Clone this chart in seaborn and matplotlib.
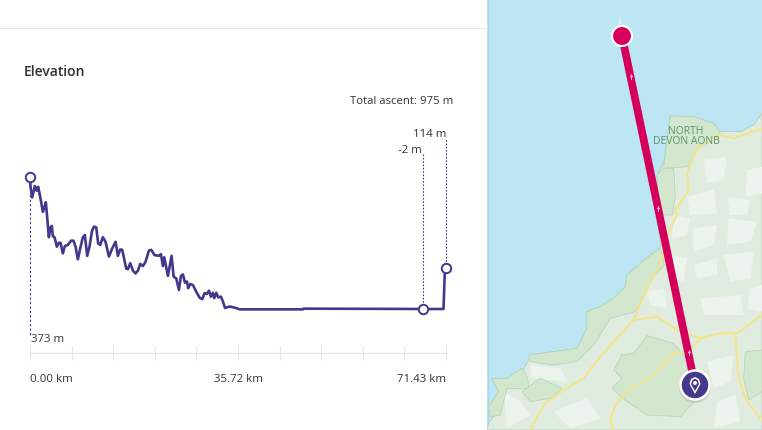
import numpy as np
import pandas as pd
import seaborn as sns
import matplotlib.pyplot as plt
from matplotlib.patches import Polygon, Circle

sns.set_theme(style="white")
plt.rcParams['font.family'] = ['Open Sans', 'DejaVu Sans']

W, H = 762, 430
PURPLE = '#45388c'
TEXT = '#333333'

# elevation profile
km = [0, 0.09, 0.37, 0.72, 0.83, 1.17, 1.40, 1.75, 2.21, 2.43, 2.72, 2.89, 3.24, 3.52, 3.75, 3.92,
      4.21, 4.61, 4.95, 5.24, 5.64, 5.99, 6.50, 7.07, 7.47, 7.82, 8.22, 8.62, 9.08, 9.42, 9.82,
      10.22, 10.62, 10.97, 11.37, 11.71, 12.06, 12.51, 12.97, 13.55, 14.12, 14.69, 15.09, 15.49,
      15.84, 16.52, 16.81, 17.21, 17.67, 18.13, 18.53, 18.93, 19.39, 19.84, 20.42, 20.82, 21.39,
      22.14, 22.48, 22.82, 23.05, 23.68, 23.97, 24.31, 24.66, 25.11, 25.57, 25.92, 26.26, 26.60,
      26.95, 27.17, 27.52, 27.98, 28.55, 29.12, 29.58, 29.98, 30.38, 30.73, 31.07, 31.41, 31.64,
      31.99, 32.33, 32.79, 33.13, 33.48, 34.28, 35.14, 36.0, 46.9, 47.0, 67.4, 71.0, 71.25]
elev = [373, 345, 315, 338, 347, 334, 345, 317, 274, 284, 301, 270, 202, 230, 234, 205,
        202, 175, 186, 186, 156, 177, 180, 192, 192, 175, 139, 170, 202, 208, 149,
        175, 218, 232, 230, 184, 180, 202, 189, 147, 170, 189, 149, 167,
        166, 113, 111, 128, 107, 99, 107, 126, 120, 132, 164, 166, 151,
        149, 154, 120, 145, 92, 118, 149, 90, 85, 52, 92, 96, 73,
        76, 57, 69, 66, 47, 30, 26, 43, 41, 50, 33, 44, 29,
        44, 31, 33, 19, 1, 5, 2, -3, -3, -1, -2, -2, 114]
marker_km = [0, 67.4, 71.43]
marker_elev = [373, -2, 114]
marker_labels = ['373 m', '-2 m', '114 m']
tick_km = [0, 7.143, 14.286, 21.429, 28.572, 35.715, 42.858, 50.001, 57.144, 64.287, 71.43]
tick_labels = ['0.00 km', '', '', '', '', '35.72 km', '', '', '', '', '71.43 km']

# map shapes as they sit in the two zoomed crops of the map
sea_coast = [(825, 340), (800, 375), (760, 395), (700, 395), (680, 370), (620, 350), (550, 348),
             (540, 420), (530, 490), (510, 525), (515, 600), (510, 645)]
sea_coast2 = [(520, 100), (490, 120), (420, 180), (415, 215), (385, 245), (340, 275), (300, 290),
              (300, 340), (270, 400), (200, 410), (130, 420), (125, 435), (105, 470), (60, 490),
              (15, 490), (35, 530), (5, 575), (20, 605), (0, 630)]
green_top = [[(550, 348), (620, 350), (680, 370), (700, 395), (690, 415), (630, 445), (605, 500), (530, 505), (540, 420)],
             [(510, 525), (530, 505), (560, 505), (565, 590), (555, 645), (515, 645)]]
green_bot = [[(520, 100), (532, 150), (495, 190), (460, 265), (445, 290), (370, 310), (320, 390), (270, 440),
              (200, 450), (130, 440), (125, 420), (200, 410), (270, 400), (300, 340), (300, 290), (340, 275),
              (385, 245), (415, 215), (420, 180), (490, 120)],
             [(15, 490), (60, 490), (105, 460), (122, 490), (125, 520), (60, 520), (40, 600), (10, 605), (5, 575), (35, 530)],
             [(105, 530), (160, 490), (225, 520), (190, 550), (130, 560)],
             [(480, 362), (560, 385), (590, 420), (620, 470), (640, 540), (580, 605), (480, 600), (420, 560),
              (375, 520), (405, 490), (380, 465), (405, 420), (440, 415)],
             [(775, 410), (825, 405), (825, 530), (785, 555), (770, 490)]]
pale_bot = [[(620, 40), (690, 30), (680, 90), (620, 110)], [(620, 150), (690, 130), (690, 180), (630, 190)],
            [(710, 120), (800, 110), (790, 190), (730, 200)], [(640, 250), (760, 240), (770, 300), (650, 300)],
            [(130, 450), (220, 460), (240, 500), (130, 490)], [(480, 230), (530, 220), (540, 280), (490, 270)],
            [(660, 440), (740, 420), (730, 500), (680, 520)], [(50, 530), (100, 560), (130, 600), (60, 640)],
            [(560, 0), (610, 10), (600, 60), (555, 70)], [(725, 10), (810, 20), (790, 80), (720, 90)],
            [(550, 120), (600, 130), (590, 200), (540, 180)], [(790, 220), (825, 210), (825, 290), (780, 280)],
            [(200, 590), (300, 550), (340, 610), (250, 640)], [(690, 560), (745, 540), (760, 620), (680, 640)]]
pale_top = [[(650, 480), (720, 470), (710, 540), (660, 550)], [(780, 510), (825, 500), (825, 580), (775, 590)],
            [(600, 590), (680, 570), (690, 640), (610, 645)], [(720, 590), (790, 600), (780, 645), (730, 645)]]
road_bot = [[(570, 0), (540, 60), (520, 150), (490, 200), (460, 265), (440, 315), (380, 380), (320, 450),
             (290, 490), (215, 535), (170, 570), (130, 645)],
            [(440, 315), (510, 305), (570, 345), (640, 370), (700, 355), (750, 355), (825, 300)],
            [(640, 370), (610, 405), (560, 415), (490, 490), (430, 520), (385, 570), (370, 610), (380, 645)],
            [(745, 360), (755, 490), (780, 560), (825, 615)]]
road_top = [[(825, 385), (740, 415), (700, 405), (630, 445), (600, 520), (605, 570), (565, 630), (570, 645)]]
route_start = (622, 36)
route_end = (695, 385)
route_arrows = [(631, 76), (658, 208), (689, 352)]


def top(pts):
    return [(487 + x / 3, y / 3) for x, y in pts]


def bot(pts):
    return [(487 + x / 3, 215 + y / 3) for x, y in pts]


fig = plt.figure(figsize=(W / 100, H / 100), dpi=100, facecolor='white')

# map panel, axes in image pixels
mp = fig.add_axes([487 / W, 0, 275 / W, 1])
mp.set_xlim(487, 762)
mp.set_ylim(430, 0)
mp.axis('off')
mp.add_patch(Polygon([(487, 0), (762, 0), (762, 430), (487, 430)], fc='#bce6f3', ec='none'))
land = top(sea_coast) + bot(sea_coast2) + [(487, 430), (762, 430)]
mp.add_patch(Polygon(land, fc='#e0ece0', ec='#a9cfae', lw=0.5))
for p in pale_bot:
    mp.add_patch(Polygon(bot(p), fc='#edf4ed', ec='none'))
for p in pale_top:
    mp.add_patch(Polygon(top(p), fc='#edf4ed', ec='none'))
for p in green_top:
    mp.add_patch(Polygon(top(p), fc='#d3e7cf', ec='#b2d2b0', lw=0.5))
for p in green_bot:
    mp.add_patch(Polygon(bot(p), fc='#d3e7cf', ec='#b2d2b0', lw=0.5))
for r in [bot(x) for x in road_bot] + [top(x) for x in road_top]:
    xy = np.array(r)
    mp.plot(xy[:, 0], xy[:, 1], color='#f3e48a', lw=1.5, solid_capstyle='round')
mp.plot([487.5, 487.5], [0, 425], color='#a8d8e9', lw=1.0)
mp.add_patch(Polygon([(618, 24), (620, 15), (622, 24)], fc='#dfeee4', ec='none'))
mp.text(686, 131, 'NORTH', color='#5a9270', fontsize=7.5, ha='center', va='center')
mp.text(686.5, 142, 'DEVON AONB', color='#5a9270', fontsize=7.5, ha='center', va='center')

mp.plot([route_start[0], route_end[0]], [route_start[1], route_end[1]], color='#d5005c', lw=5.6,
        solid_capstyle='butt', zorder=3)
for x, y in route_arrows:
    mp.plot([x], [y - 1], marker='^', ms=2.5, color='#f9b6d2', mew=0, zorder=4)
    mp.plot([x, x], [y - 1, y + 3], color='#f9b6d2', lw=0.7, zorder=4)
mp.add_patch(Circle(route_start, 10, fc='#d5005c', ec='white', lw=1.5, zorder=5))
mp.add_patch(Circle((695, 387), 16, fc='#9a9a9a', ec='none', alpha=0.35, zorder=5))
mp.add_patch(Circle(route_end, 14.5, fc=PURPLE, ec='white', lw=1.8, zorder=6))
mp.add_patch(Polygon([(689.5, 384), (691, 379), (695, 377), (699, 379), (700.5, 384), (695, 394)], fc='white', ec='none', zorder=7))
mp.add_patch(Polygon([(691, 384), (692.5, 380), (695, 378.7), (697.5, 380), (699, 384), (695, 391)], fc=PURPLE, ec='none', zorder=8))
mp.add_patch(Circle((695, 383), 2, fc='white', ec='none', zorder=9))

# header rule of the left panel
fig.add_artist(plt.Line2D([0, 487 / W], [1 - 27.5 / H] * 2, color='#e8e8e8', lw=0.8))

# chart axes: x 30..446 px is 0..71.43 km, y 353..130 px is the elevation window
ax = fig.add_axes([30 / W, 1 - 353 / H, 416 / W, 223 / H], facecolor='none')
df = pd.DataFrame({'km': km, 'elev': elev})
sns.lineplot(data=df, x='km', y='elev', ax=ax, color=PURPLE, linewidth=1.9, estimator=None, sort=False,
             clip_on=False)
ax.set_xlim(0, 71.43)
ax.set_ylim(-127, 506.4)
ax.set_xlabel('')
ax.set_ylabel('')
ax.set_yticks([])
ax.set_xticks(tick_km)
ax.set_xticklabels(tick_labels)
sns.despine(ax=ax, left=True)
ax.spines['bottom'].set_color('#e6e6e6')
ax.spines['bottom'].set_linewidth(1.0)
ax.tick_params(axis='x', direction='inout', length=10, width=0.8, color='#e6e6e6', pad=10, labelsize=8.2,
               labelcolor=TEXT, bottom=True)
for lab, ha in zip(ax.get_xticklabels(), ['left'] + [''] * 4 + ['center'] + [''] * 4 + ['right']):
    if ha:
        lab.set_ha(ha)

# dotted drop lines and value labels
ax.plot([0, 0], [373, -76], color=PURPLE, lw=0.8, ls=(0, (2, 2)), clip_on=False)
ax.plot([67.4, 67.4], [-2, 440], color=PURPLE, lw=0.8, ls=(0, (1.5, 1.5)), clip_on=False)
ax.plot([71.43, 71.43], [114, 485], color=PURPLE, lw=0.8, ls=(0, (1.5, 1.5)), clip_on=False)
ax.plot(marker_km, marker_elev, ls='none', marker='o', ms=6.8, mfc='white', mec=PURPLE, mew=1.4, clip_on=False, zorder=5)
ax.text(0.1, -88, marker_labels[0], color=TEXT, fontsize=8.2, ha='left', va='center')
ax.text(67.3, 449, marker_labels[1], color=TEXT, fontsize=8.2, ha='right', va='center')
ax.text(71.43, 494, marker_labels[2], color=TEXT, fontsize=8.2, ha='right', va='center')

fig.text(24 / W, 1 - 72 / H, 'Elevation', color='#2f2f2f', fontsize=10, fontweight='semibold', va='center')
fig.text(453 / W, 1 - 102 / H, 'Total ascent: 975 m', color=TEXT, fontsize=8.2, ha='right', va='center')

fig.savefig('out.png', dpi=100)
